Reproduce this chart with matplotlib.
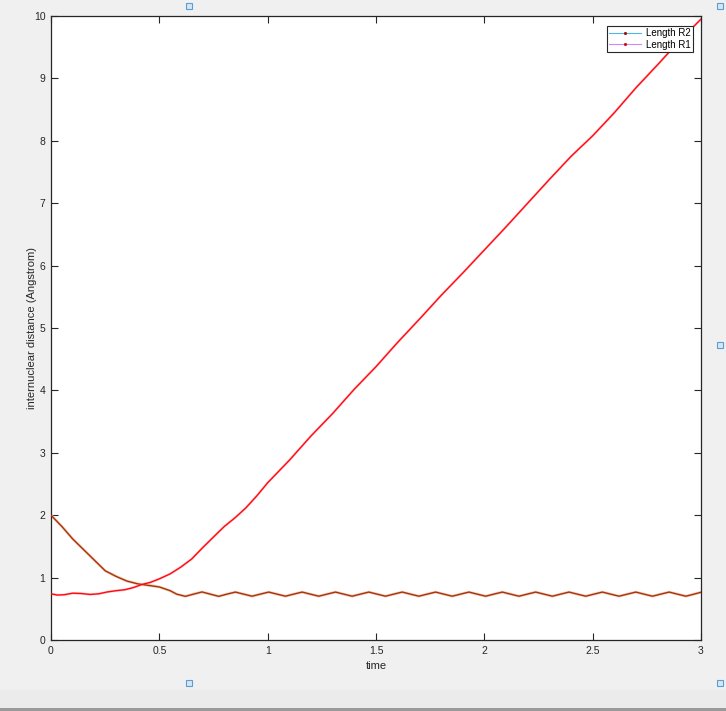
import matplotlib
matplotlib.use("Agg")
import matplotlib.pyplot as plt
from matplotlib.patches import Rectangle
from matplotlib.lines import Line2D

plt.rcParams['font.family'] = ['Liberation Sans', 'DejaVu Sans']

# ---- data ----
t_r2 = [0.00, 0.05, 0.10, 0.15, 0.20, 0.25, 0.30, 0.35, 0.40, 0.45, 0.50, 0.55, 0.58,
        0.620, 0.658, 0.697, 0.735, 0.774, 0.812, 0.851, 0.889, 0.928, 0.966,
        1.005, 1.043, 1.082, 1.120, 1.159, 1.197, 1.236, 1.274, 1.313, 1.351,
        1.390, 1.428, 1.467, 1.505, 1.544, 1.582, 1.621, 1.659, 1.698, 1.736,
        1.775, 1.813, 1.852, 1.890, 1.929, 1.967, 2.006, 2.044, 2.083, 2.121,
        2.160, 2.198, 2.237, 2.275, 2.314, 2.352, 2.391, 2.429, 2.468, 2.506,
        2.545, 2.583, 2.622, 2.660, 2.699, 2.737, 2.776, 2.814, 2.853, 2.891,
        2.930, 2.968, 3.000]
r2 = [2.00, 1.82, 1.62, 1.45, 1.28, 1.11, 1.02, 0.945, 0.90, 0.875, 0.85, 0.79, 0.735,
      0.700, 0.735, 0.770, 0.735, 0.700, 0.735, 0.768, 0.735, 0.702, 0.735,
      0.768, 0.735, 0.702, 0.735, 0.768, 0.735, 0.702, 0.735, 0.768, 0.735,
      0.702, 0.735, 0.768, 0.735, 0.702, 0.735, 0.768, 0.735, 0.702, 0.735,
      0.768, 0.735, 0.702, 0.735, 0.768, 0.735, 0.702, 0.735, 0.768, 0.735,
      0.702, 0.735, 0.768, 0.735, 0.702, 0.735, 0.768, 0.735, 0.702, 0.735,
      0.768, 0.735, 0.702, 0.735, 0.768, 0.735, 0.702, 0.735, 0.768, 0.735,
      0.702, 0.735, 0.765]

t_r1 = [0.00, 0.03, 0.06, 0.10, 0.14, 0.18, 0.22, 0.26, 0.30, 0.34, 0.38, 0.42, 0.46,
        0.50, 0.55, 0.60, 0.65, 0.70, 0.75, 0.80, 0.85, 0.90, 0.95, 1.00,
        1.10, 1.20, 1.30, 1.40, 1.50, 1.60, 1.70, 1.80, 1.90, 2.00,
        2.10, 2.20, 2.30, 2.40, 2.50, 2.60, 2.70, 2.80, 2.90, 3.00]
r1 = [0.74, 0.72, 0.725, 0.75, 0.745, 0.73, 0.74, 0.77, 0.79, 0.805, 0.84, 0.89, 0.925,
      0.98, 1.06, 1.17, 1.30, 1.48, 1.65, 1.82, 1.96, 2.12, 2.31, 2.52,
      2.88, 3.27, 3.63, 4.02, 4.38, 4.77, 5.14, 5.52, 5.88, 6.25,
      6.62, 7.00, 7.38, 7.75, 8.08, 8.45, 8.85, 9.22, 9.60, 9.95]

labels = ['Length R2', 'Length R1']
x_ticks = [0, 0.5, 1, 1.5, 2, 2.5, 3]
x_tick_labels = ['0', '0.5', '1', '1.5', '2', '2.5', '3']
y_ticks = list(range(0, 11))

# ---- figure ----
fig = plt.figure(figsize=(7.26, 7.11), dpi=100, facecolor='#f0f0f0')
ax = fig.add_axes([51/726, 1 - 640/711, 650/726, 624/711])
ax.set_facecolor('white')

# R2: light-blue line with dark red dot markers (dense -> brownish curve)
ax.plot(t_r2, r2, color='#f0cdb8', lw=2.0, zorder=2, solid_capstyle='round')
ax.plot(t_r2, r2, color='#a8320c', lw=1.0, zorder=3)
# R1: light-purple line with red markers (dense -> red curve)
ax.plot(t_r1, r1, color='#ffc8d8', lw=1.8, zorder=2, solid_capstyle='round')
ax.plot(t_r1, r1, color='#ff0a0a', lw=1.0, zorder=4)

handles = [Line2D([], [], color='#4db8e8', lw=0.8, marker='.', ms=2.5,
                  mfc='#a01010', mec='#a01010'),
           Line2D([], [], color='#cc88ff', lw=0.8, marker='.', ms=2.5,
                  mfc='#d01010', mec='#d01010')]
leg = ax.legend(handles, labels, loc='upper right', bbox_to_anchor=(0.988, 0.984),
                borderaxespad=0, fontsize=7, frameon=True, fancybox=False,
                edgecolor='#262626', handlelength=3.3, handletextpad=0.5,
                labelspacing=0.15, borderpad=0.25, numpoints=1)
leg.get_frame().set_linewidth(0.8)
leg.get_frame().set_alpha(1)
leg.set_zorder(10)

ax.set_xlim(0, 3)
ax.set_ylim(0, 10)
ax.set_xticks(x_ticks)
ax.set_xticklabels(x_tick_labels)
ax.set_yticks(y_ticks)
ax.tick_params(direction='in', length=5, width=0.8, colors='#262626',
               labelsize=7.5, top=True, right=True, pad=4)
for s in ax.spines.values():
    s.set_color('#262626')
    s.set_linewidth(0.9)

ax.set_xlabel('time', fontsize=8, color='#262626', labelpad=4)
ax.set_ylabel('internuclear distance (Angstrom)', fontsize=8, color='#262626', labelpad=-2)

# editor handles & bottom strip (window decoration)
for (px, py) in [(189, 6), (720, 6), (720, 345), (189, 683), (720, 683)]:
    fig.add_artist(Rectangle(((px - 3) / 726, 1 - (py + 3) / 711), 6 / 726, 6 / 711,
                             transform=fig.transFigure, facecolor='#d6e6f4',
                             edgecolor='#5a9fd4', lw=0.8))
fig.add_artist(Rectangle((0, 0), 1, 3 / 711, transform=fig.transFigure,
                         facecolor='#9a9a9a', edgecolor='none'))
fig.add_artist(Rectangle((0, 3 / 711), 1, 18 / 711, transform=fig.transFigure,
                         facecolor='#ebebeb', edgecolor='none'))

fig.savefig('out.png', dpi=100, facecolor=fig.get_facecolor())
